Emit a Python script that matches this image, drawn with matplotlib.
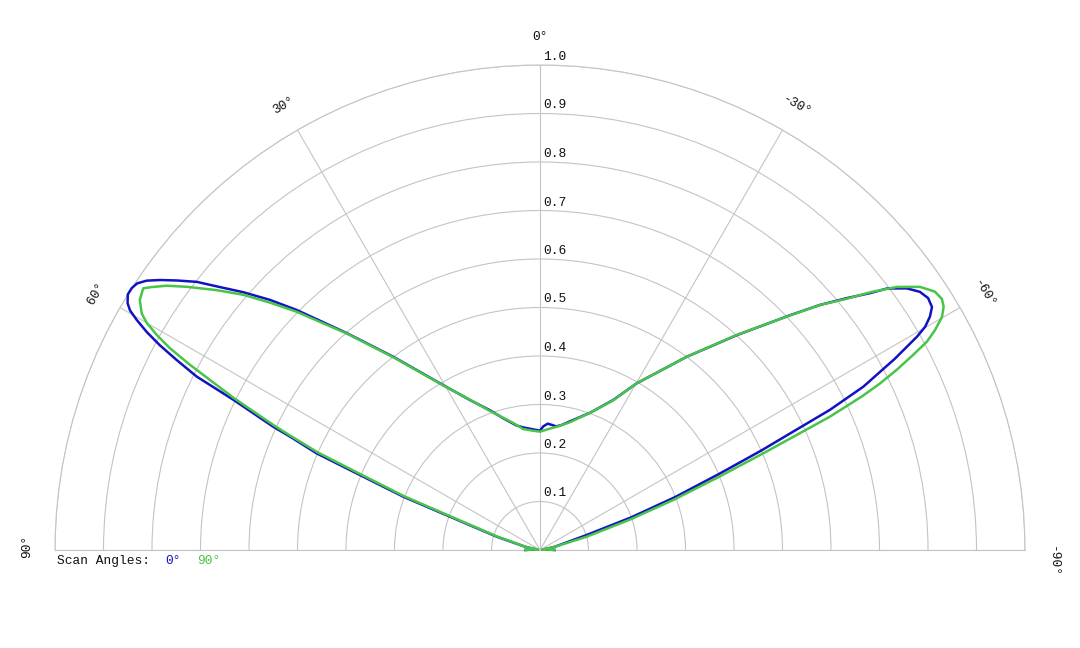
import numpy as np
import matplotlib
matplotlib.use("Agg")
import matplotlib.pyplot as plt
from matplotlib.transforms import offset_copy

# Scan angle 0 deg (blue) and 90 deg (green): normalised radiation pattern, angles in degrees
BLUE_ANGLES = [-90, -86, -82, -78, -72.2, -70.3, -68.6, -67.0, -65.8, -65.0,
               -64.2, -63.2, -62.2, -61.7, -61.2, -60.5, -59.9, -59.1, -58.2, -57.0,
               -55.8, -54.5, -53.0, -52.1, -50.6, -48.8, -46.8, -42.5, -37.2, -30.1,
               -26, -20, -13, -10, -7.5, -5.5, -3.5, -1.5, 0, 4,
               7.7, 10.6, 15.6, 19.7, 25, 30.4, 37.2, 41.7, 45.4, 47.2,
               49.0, 50.8, 52.0, 53.4, 54.6, 55.6, 56.5, 57.3, 58.2, 59.1,
               59.7, 60.3, 61.0, 61.7, 62.4, 63.2, 63.9, 65.2, 65.6, 66.6,
               67.4, 68.7, 69.7, 72.9, 78, 82, 86, 90]
BLUE_R = [0.03, 0.015, 0.005, 0.03, 0.1, 0.2, 0.3, 0.4, 0.5, 0.57,
          0.664, 0.747, 0.80, 0.83, 0.855, 0.893, 0.918, 0.937, 0.951, 0.954,
          0.947, 0.929, 0.896, 0.862, 0.818, 0.767, 0.707, 0.601, 0.5, 0.397,
          0.344, 0.301, 0.272, 0.262, 0.257, 0.259, 0.261, 0.255, 0.246, 0.25,
          0.255, 0.261, 0.282, 0.306, 0.341, 0.394, 0.5, 0.599, 0.705, 0.759,
          0.81, 0.86, 0.898, 0.932, 0.961, 0.983, 0.996, 1.0, 1.0, 0.991,
          0.979, 0.957, 0.927, 0.89, 0.845, 0.793, 0.704, 0.606, 0.566, 0.502,
          0.402, 0.302, 0.198, 0.093, 0.03, 0.005, 0.015, 0.03]

GREEN_ANGLES = [-90, -86, -82, -78, -74.1, -71.3, -69.4, -67.8, -66.6, -65.9,
                -65.3, -64.5, -63.9, -63.2, -62.4, -61.7, -60.9, -59.9, -58.9, -58.0,
                -56.8, -55.3, -53.6, -52.1, -50.6, -48.8, -46.8, -42.5, -37.2, -30.1,
                -26, -20, -13, -8, -4, -1.5, 0, 4, 8, 12,
                19.7, 25, 30.4, 37.2, 41.7, 45.6, 47.5, 49.3, 51.2, 53.3,
                54.7, 55.9, 56.6, 58.0, 59.3, 60.0, 60.7, 61.4, 62.1, 63.6,
                64.9, 65.4, 66.3, 67.1, 68.4, 69.4, 72.5, 77.5, 82, 86, 90]
GREEN_R = [0.03, 0.015, 0.005, 0.03, 0.1, 0.197, 0.295, 0.396, 0.5, 0.575,
           0.658, 0.735, 0.781, 0.824, 0.868, 0.906, 0.932, 0.958, 0.972, 0.977,
           0.973, 0.953, 0.914, 0.866, 0.815, 0.767, 0.706, 0.602, 0.5, 0.397,
           0.343, 0.301, 0.27, 0.257, 0.25, 0.246, 0.244, 0.247, 0.252, 0.268,
           0.304, 0.342, 0.393, 0.498, 0.597, 0.702, 0.755, 0.807, 0.855, 0.908,
           0.943, 0.967, 0.98, 0.973, 0.955, 0.936, 0.906, 0.869, 0.818, 0.705,
           0.606, 0.566, 0.5, 0.402, 0.302, 0.198, 0.093, 0.03, 0.005, 0.015, 0.03]

RING_TICKS = [0.1, 0.2, 0.3, 0.4, 0.5, 0.6, 0.7, 0.8, 0.9, 1.0]
SPOKE_TICKS = [-90, -60, -30, 0, 30, 60, 90]

BLUE = "#1212c2"
GREEN = "#48c448"
GRID = "#c4c4c4"
FONT = "Liberation Mono"

W, H = 1080, 648
CX, CY, R = 540, 550, 485  # half-disc centre and radius, px from top-left

fig = plt.figure(figsize=(W / 100, H / 100), dpi=100)
# matplotlib fits the half wedge into half of the axes box, so the box is 4R x 2R
# centred on the wedge's bounding box
bx = CX - 2 * R
by = (H - (CY - R / 2)) - R
ax = fig.add_axes([bx / W, by / H, 4 * R / W, 2 * R / H], projection="polar")
ax.set_theta_zero_location("N")
ax.set_theta_direction(1)
ax.set_thetamin(-90)
ax.set_thetamax(90)
ax.set_ylim(0, 1)

ax.set_rticks(RING_TICKS)
ax.set_thetagrids(SPOKE_TICKS)
ax.set_xticklabels([])
ax.set_yticklabels([])
ax.grid(True, color=GRID, lw=0.8)
for sp in ax.spines.values():
    sp.set_color(GRID)
    sp.set_linewidth(0.8)
ax.tick_params(length=0)
ax.patch.set_alpha(0)

ax.plot(np.deg2rad(BLUE_ANGLES), BLUE_R, color=BLUE, lw=1.8, zorder=3,
        clip_on=False, solid_joinstyle="round")
ax.plot(np.deg2rad(GREEN_ANGLES), GREEN_R, color=GREEN, lw=1.8, zorder=4,
        clip_on=False, solid_joinstyle="round")

# ring labels just right of / above the 0-degree spoke
lab_tr = offset_copy(ax.transData, fig=fig, x=3, y=2, units="dots")
for r in RING_TICKS:
    ax.text(0, r, f"{r:.1f}", transform=lab_tr, ha="left", va="bottom",
            fontsize=9.3, family=FONT, color="#111111")

# angle labels, rotated along their spoke
nudge = {90: -0.45, -90: -1.3}
for t in SPOKE_TICKS:
    ax.text(np.deg2rad(t + nudge.get(t, 0)), 1.057, f"{t}°", rotation=t,
            rotation_mode="anchor", ha="center", va="center",
            fontsize=9.3, family=FONT, color="#111111")

ly = (H - 561) / H
fig.text(57 / W, ly, "Scan Angles:", ha="left", va="center",
         fontsize=9.3, family=FONT, color="#111111")
fig.text(165 / W, ly, "0°", ha="left", va="center",
         fontsize=9.3, family=FONT, color=BLUE)
fig.text(197 / W, ly, "90°", ha="left", va="center",
         fontsize=9.3, family=FONT, color=GREEN)

fig.savefig("out.png", dpi=100, facecolor="white")
